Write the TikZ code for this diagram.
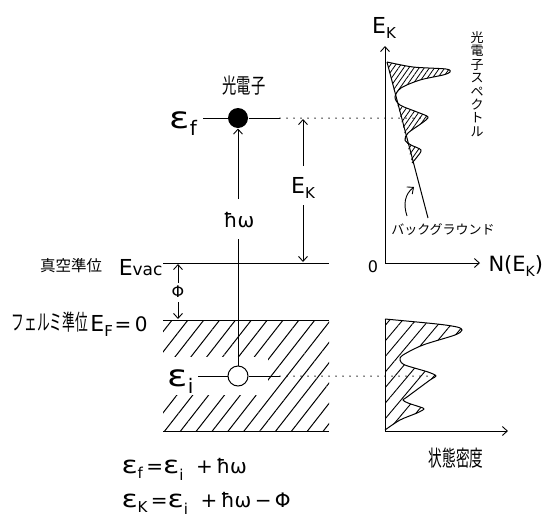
\documentclass[tikz,border=0pt]{standalone}
\usepackage{fontspec}
\setmainfont{DejaVu Sans}
\newfontfamily\jp{Noto Sans CJK JP}
\usetikzlibrary{arrows.meta,patterns.meta}
\newcommand\fs[1]{\fontsize{#1}{#1}\selectfont}
\newcommand\lo[3]{\raisebox{#1}{\fs{#2}#3}}
\newcommand\bigeps[1]{{\fs{#1}\scalebox{1.25}[1]{ε}}}
\tikzset{
  dotl/.style={line width=1.5pt, line cap=round, dash pattern=on 0pt off 7pt},
  arr/.style={-{Straight Barb[length=5pt,width=9pt,line width=0.9pt]}},
  lbl/.style={inner sep=0pt},
  hatchbig/.style={pattern={Lines[angle=52,distance=12.5pt,line width=1pt]}},
  hatchmid/.style={pattern={Lines[angle=50,distance=10pt,line width=0.9pt]}},
  hatchfine/.style={pattern={Lines[angle=55,distance=4.2pt,line width=0.8pt]}},
}
\begin{document}
\begin{tikzpicture}[x=1pt,y=-1pt,line width=1pt]
\useasboundingbox (0,0) rectangle (552,520);

% ---------- energy level diagram ----------
\coordinate (boxTL) at (163,320);
\coordinate (boxBR) at (329,431);
\path[hatchbig] (boxTL) rectangle (boxBR);
\fill[white] (163,357) rectangle (268,395);

\coordinate (vacL) at (163,263); \coordinate (vacR) at (329,263);
\coordinate (ferL) at (163,320); \coordinate (ferR) at (329,320);
\coordinate (botL) at (163,431); \coordinate (botR) at (329,431);
\draw (vacL) -- (vacR);
\draw (ferL) -- (ferR);
\draw (botL) -- (botR);

\node[circle,fill=black,minimum size=20pt,inner sep=0pt] (pe) at (238,118) {};
\node[circle,draw,fill=white,minimum size=20pt,inner sep=0pt] (hole) at (238,376) {};

\coordinate (efL) at (203,118); \coordinate (efR) at (280,118); \coordinate (efD) at (428,118);
\draw (efL) -- (pe) -- (efR);
\draw[dotl] (efR) -- (efD);

\coordinate (eiL) at (198,376); \coordinate (eiR) at (280,376); \coordinate (eiD) at (434,376);
\draw (eiL) -- (hole) -- (eiR);
\draw[dotl] (eiR) -- (eiD);

\node[lbl,anchor=base west] (ef) at (169,128) {\bigeps{30}\lo{-7pt}{20}{f}};
\node[lbl,anchor=base west] (ei) at (167,386) {\bigeps{30}\lo{-7pt}{20}{i}};

\node[lbl] (pelbl) at (244,86) {\scalebox{0.68}[1]{\jp\fs{21}光電子}};

\node[lbl] (hw) at (239,220) {\fs{20}ħω};
\coordinate (hwT) at (238,199); \coordinate (hwB) at (238,239);
\draw[arr] (hwT) -- (pe);
\draw (hole) -- (hwB);

\node[lbl] (ek) at (303,188) {{\fs{22}E}\lo{-5pt}{15}{K}};
\coordinate (ekA) at (303,119); \coordinate (ekB) at (303,262);
\coordinate (ekM1) at (303,166); \coordinate (ekM2) at (303,205);
\draw[arr] (ekM1) -- (ekA);
\draw[arr] (ekM2) -- (ekB);

\node[lbl] (vaclbl) at (71,266) {\jp\fs{15.5}真空準位};
\node[lbl,anchor=base east] (evac) at (163,275) {{\fs{22}E}{\fs{17}vac}};

\node[lbl] (phi) at (178,292) {\fs{16}Φ};
\coordinate (phiT) at (178,283); \coordinate (phiTT) at (178,264);
\coordinate (phiB) at (178,302); \coordinate (phiBB) at (178,319);
\draw[arr] (phiT) -- (phiTT);
\draw[arr] (phiB) -- (phiBB);

\node[lbl] (ferlbl) at (50,322) {\scalebox{0.58}[1]{\jp\fs{22}フェルミ準位}};
\node[lbl,anchor=base east] (ef0) at (148,331) {{\fs{22}E}\lo{-5pt}{15}{F}\,{\fs{20}=\,0}};

% ---------- equations ----------
\node[lbl,anchor=base west] (eq1) at (121,473)
  {\fs{20}\bigeps{24}\lo{-5pt}{15}{f}\,=\bigeps{24}\lo{-7pt}{15}{i}\ \ +\,ħω};
\node[lbl,anchor=base west] (eq2) at (121,507)
  {\fs{20}\bigeps{24}\lo{-5pt}{15}{K}\,=\bigeps{24}\lo{-7pt}{15}{i}\ \ +\,ħω\,−\,Φ};

% ---------- photoelectron spectrum ----------
\coordinate (o) at (385,263); \coordinate (ekTop) at (385,46); \coordinate (nR) at (480,263);
\path[hatchfine] plot[smooth,tension=0.5] coordinates {(387,62) (413,67) (446,69) (450,72) (443,75) (420,80) (401,88) (395,97) (400,105) (417,112) (428,117) (422,123) (408,133) (405,140) (411,145) (421,150) (417,157) (412,163)} -- cycle;
\draw plot[smooth,tension=0.5] coordinates {(387,62) (413,67) (446,69) (450,72) (443,75) (420,80) (401,88) (395,97) (400,105) (417,112) (428,117) (422,123) (408,133) (405,140) (411,145) (421,150) (417,157) (412,163)};
\coordinate (bgTop) at (387,62); \coordinate (bgBot) at (428,218);
\draw (bgTop) -- (bgBot);
\draw[arr] (o) -- (ekTop);
\draw[arr] (o) -- (nR);
\node[lbl] (eklbl) at (384,28) {{\fs{22}E}\lo{-5pt}{15}{K}};
\node[lbl] (zero) at (373,267) {\fs{16}0};
\node[lbl,anchor=west] (nek) at (488,266) {\fs{21}N(E\lo{-5pt}{14}{K})};
\node[lbl] (bglbl) at (443,230) {\jp\fs{13}バックグラウンド};
\coordinate (ca0) at (407,216); \coordinate (ca1) at (414,187);
\draw[arr,line width=0.9pt] (ca0) .. controls (403,204) and (405,194) .. (ca1);
\node[lbl,align=center,font={\jp\fontsize{13}{13.4}\selectfont}] (vt) at (477,84)
  {光\\電\\子\\ス\\ペ\\ク\\ト\\ル};

% ---------- density of states ----------
\coordinate (dosTop) at (385,319); \coordinate (dosO) at (385,431); \coordinate (dosR) at (508,431);
\path[hatchmid] plot[smooth,tension=0.5] coordinates {(385,319) (437,324) (457,327) (462,330) (455,335) (423,345) (403,355) (400,360) (405,365) (428,372) (436,376) (430,380) (407,397) (403,400) (408,403) (420,407) (424,409) (417,413) (400,420) (385,430)} -- cycle;
\draw plot[smooth,tension=0.5] coordinates {(385,319) (437,324) (457,327) (462,330) (455,335) (423,345) (403,355) (400,360) (405,365) (428,372) (436,376) (430,380) (407,397) (403,400) (408,403) (420,407) (424,409) (417,413) (400,420) (385,430)};
\draw (dosTop) -- (dosO);
\draw[arr] (dosO) -- (dosR);
\node[lbl] (doslbl) at (456,458) {\scalebox{0.62}[1]{\jp\fs{22}状態密度}};
\end{tikzpicture}
\end{document}
